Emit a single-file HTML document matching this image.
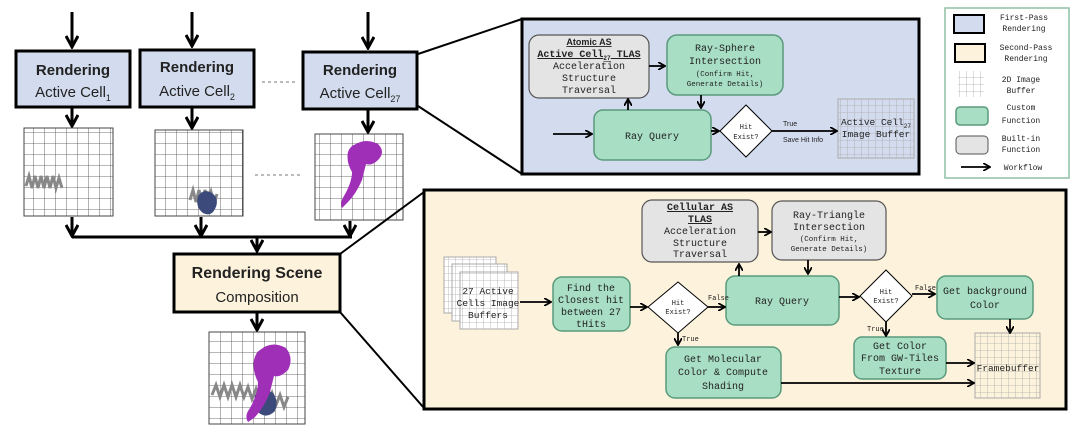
<!DOCTYPE html>
<html><head><meta charset="utf-8"><style>
html,body{margin:0;padding:0;background:#fff;}
svg{display:block;}
text{font-family:"Liberation Mono",monospace;fill:#222;}
.s{font-family:"Liberation Sans",sans-serif;}
</style></head><body>
<svg width="1076" height="436" viewBox="0 0 1076 436" xmlns="http://www.w3.org/2000/svg">
<defs>
<marker id="a" markerWidth="8" markerHeight="8" refX="7" refY="4" orient="auto" markerUnits="userSpaceOnUse"><path d="M0,0 L7,4 L0,8" fill="none" stroke="#000" stroke-width="1.8"/></marker>
<marker id="b" markerWidth="14" markerHeight="14" refX="12" refY="7" orient="auto" markerUnits="userSpaceOnUse"><path d="M1,1 L12,7 L1,13" fill="none" stroke="#000" stroke-width="3"/></marker>
<pattern id="g" width="11" height="11" patternUnits="userSpaceOnUse"><path d="M11,0 L0,0 0,11" fill="none" stroke="#444" stroke-width="0.8"/></pattern>
<pattern id="gl" width="7" height="7" patternUnits="userSpaceOnUse"><path d="M7,0 L0,0 0,7" fill="none" stroke="#aaa" stroke-width="0.8"/></pattern>
</defs>

<g stroke="#000" stroke-width="3" marker-end="url(#b)">
<line x1="72" y1="12" x2="72" y2="47"/><line x1="192" y1="12" x2="192" y2="46"/><line x1="368" y1="12" x2="368" y2="48"/>
<line x1="72" y1="108" x2="72" y2="126"/><line x1="192" y1="108" x2="192" y2="128"/><line x1="368" y1="110" x2="368" y2="132"/>
<line x1="72" y1="217" x2="72" y2="236"/><line x1="201" y1="217" x2="201" y2="236"/><line x1="350" y1="221" x2="350" y2="236"/>
<line x1="257" y1="237" x2="257" y2="251"/><line x1="257" y1="313" x2="257" y2="330"/>
</g>
<line x1="72" y1="237" x2="352" y2="237" stroke="#000" stroke-width="3"/>

<rect x="16" y="51" width="114" height="56" fill="#d3dcee" stroke="#000" stroke-width="3"/>
<rect x="140" y="50" width="114" height="57" fill="#d3dcee" stroke="#000" stroke-width="3"/>
<rect x="303" y="52" width="114" height="57" fill="#d3dcee" stroke="#000" stroke-width="3"/>
<g class="s" text-anchor="middle">
<text x="73" y="75" class="s" font-weight="bold" font-size="15">Rendering</text>
<text x="73" y="97" class="s" font-size="15">Active Cell<tspan font-size="9" dy="4">1</tspan></text>
<text x="197" y="72" class="s" font-weight="bold" font-size="15">Rendering</text>
<text x="197" y="96" class="s" font-size="15">Active Cell<tspan font-size="9" dy="4">2</tspan></text>
<text x="360" y="75" class="s" font-weight="bold" font-size="15">Rendering</text>
<text x="360" y="98" class="s" font-size="15">Active Cell<tspan font-size="9" dy="4">27</tspan></text>
</g>
<line x1="262" y1="82" x2="296" y2="82" stroke="#bbb" stroke-width="2" stroke-dasharray="3,3"/>
<line x1="255" y1="175" x2="302" y2="175" stroke="#bbb" stroke-width="2" stroke-dasharray="3,3"/>

<rect x="24" y="128" width="89" height="88" fill="url(#g)" stroke="#444"/>
<rect x="155" y="130" width="88" height="86" fill="url(#g)" stroke="#444"/>
<rect x="315" y="134" width="88" height="86" fill="url(#g)" stroke="#444"/>
<rect x="209" y="332" width="96" height="92" fill="url(#g)" stroke="#444"/>
<g stroke="#888" stroke-width="3" fill="none">
<path d="M26,186 l3,-10 l3,12 l3,-12 l3,12 l3,-12 l3,12 l3,-12 l3,12 l3,-12 l3,12 l3,-10 l3,10"/>
<path d="M190,200 l3,-10 l3,12 l3,-12 l3,12 l3,-12 l3,12 l3,-10 l3,12 l3,-10"/>
<path d="M212,395 l4,-10 l4,12 l4,-12 l4,12 l4,-12 l4,12 l4,-12 l4,12 l4,-10 l4,12 l4,-10 l4,12 l4,-10 l4,12 l4,-10 l4,12 l4,-10 l4,12 l4,-10"/>
</g>
<path d="M198,196 q6,-8 14,-3 q8,6 3,16 q-4,8 -12,4 q-8,-6 -5,-17z" fill="#3b4a7a"/>
<path d="M255,395 q8,-8 18,-2 q6,8 2,18 q-8,8 -16,2 q-6,-8 -4,-18z" fill="#3b4a7a"/>
<path d="M356,144 q10,-6 22,0 q8,8 0,16 q-6,6 -12,4 l-4,16 q-6,14 -14,22 l-6,6 q-2,-6 2,-12 q8,-14 8,-24 q-6,-10 -4,-20 q2,-6 8,-8z" fill="#a02fb8"/>
<path d="M260,350 q12,-10 26,-2 q8,10 2,22 q-8,8 -14,6 l-4,16 q-6,16 -16,26 l-6,4 q-4,-6 2,-14 q8,-14 8,-26 q-6,-12 -4,-22 q2,-8 6,-10z" fill="#a02fb8"/>

<rect x="174" y="254" width="166" height="58" fill="#fdf3dc" stroke="#000" stroke-width="3"/>
<text x="257" y="278" class="s" text-anchor="middle" font-weight="bold" font-size="16">Rendering Scene</text>
<text x="257" y="302" class="s" text-anchor="middle" font-size="15">Composition</text>

<g stroke="#000" stroke-width="2">
<line x1="418" y1="54" x2="522" y2="19"/><line x1="418" y1="106" x2="522" y2="174"/>
<line x1="340" y1="254" x2="424" y2="192"/><line x1="340" y1="312" x2="424" y2="408"/>
</g>

<rect x="522" y="19" width="397" height="155" fill="#d3dcee" stroke="#000" stroke-width="3"/>
<rect x="529" y="35" width="120" height="63" rx="10" fill="#e4e4e4" stroke="#555" stroke-width="1.2"/>
<g text-anchor="middle" font-size="10">
<text x="589" y="45" class="s" font-weight="bold" font-size="9" text-decoration="underline">Atomic AS</text>
<text x="589" y="57" font-weight="bold" text-decoration="underline">Active Cell<tspan font-size="6" dy="3">27</tspan><tspan dy="-3"> TLAS</tspan></text>
<text x="589" y="69">Acceleration</text>
<text x="589" y="81">Structure</text>
<text x="589" y="93">Traversal</text>
</g>
<rect x="667" y="35" width="116" height="60" rx="10" fill="#a8dfc4" stroke="#5a9a7c" stroke-width="1.5"/>
<g text-anchor="middle">
<text x="725" y="51" font-size="10">Ray-Sphere</text>
<text x="725" y="64" font-size="10">Intersection</text>
<text x="725" y="76" font-size="7.5">(Confirm Hit,</text>
<text x="725" y="86" font-size="7.5">Generate Details)</text>
</g>
<rect x="594" y="110" width="117" height="50" rx="9" fill="#a8dfc4" stroke="#5a9a7c" stroke-width="1.5"/>
<text x="652" y="139" text-anchor="middle" font-size="10">Ray Query</text>
<path d="M746,105 L772,131 L746,157 L720,131Z" fill="#fff" stroke="#000" stroke-width="1"/>
<text x="746" y="129" text-anchor="middle" font-size="7">Hit</text>
<text x="746" y="139" text-anchor="middle" font-size="7">Exist?</text>
<rect x="838" y="99" width="76" height="59" fill="url(#gl)" stroke="#aaa"/>
<text x="876" y="125" text-anchor="middle" font-size="9.5">Active Cell<tspan font-size="6" dy="3">27</tspan></text>
<text x="876" y="137" text-anchor="middle" font-size="9.5">Image Buffer</text>
<text x="783" y="126" class="s" font-size="7">True</text>
<text x="783" y="142" class="s" font-size="7">Save Hit Info</text>
<g stroke="#000" stroke-width="1.8" marker-end="url(#a)">
<line x1="553" y1="134" x2="592" y2="134"/>
<line x1="649" y1="66" x2="665" y2="66"/>
<line x1="701" y1="95" x2="701" y2="108"/>
<line x1="628" y1="110" x2="628" y2="99"/>
<line x1="711" y1="131" x2="719" y2="131"/>
<line x1="772" y1="131" x2="837" y2="131"/>
</g>

<rect x="424" y="190" width="642" height="219" fill="#fdf3dc" stroke="#000" stroke-width="3"/>
<rect x="444" y="257" width="52" height="56" fill="#fff" stroke="#aaa"/><rect x="444" y="257" width="52" height="56" fill="url(#gl)"/>
<rect x="452" y="264" width="55" height="57" fill="#fff" stroke="#aaa"/><rect x="452" y="264" width="55" height="57" fill="url(#gl)"/>
<rect x="460" y="272" width="58" height="57" fill="#fff" stroke="#aaa"/><rect x="460" y="272" width="58" height="57" fill="url(#gl)"/>
<g text-anchor="middle" font-size="9.5">
<text x="488" y="294">27 Active</text><text x="488" y="306">Cells Image</text><text x="488" y="318">Buffers</text>
</g>
<rect x="553" y="277" width="77" height="54" rx="9" fill="#a8dfc4" stroke="#5a9a7c" stroke-width="1.5"/>
<g text-anchor="middle" font-size="10">
<text x="591" y="291">Find the</text><text x="591" y="303">Closest hit</text><text x="591" y="315">between 27</text><text x="591" y="327">tHits</text>
</g>
<path d="M678,282 L708,307 L678,333 L648,307Z" fill="#fff" stroke="#000" stroke-width="1"/>
<text x="678" y="305" text-anchor="middle" font-size="7">Hit</text><text x="678" y="314" text-anchor="middle" font-size="7">Exist?</text>
<rect x="642" y="200" width="116" height="62" rx="10" fill="#e4e4e4" stroke="#555" stroke-width="1.2"/>
<g text-anchor="middle" font-size="10">
<text x="700" y="210" font-weight="bold" text-decoration="underline">Cellular AS</text>
<text x="700" y="222" font-weight="bold" text-decoration="underline">TLAS</text>
<text x="700" y="234">Acceleration</text><text x="700" y="246">Structure</text><text x="700" y="257">Traversal</text>
</g>
<rect x="772" y="201" width="114" height="59" rx="10" fill="#e4e4e4" stroke="#555" stroke-width="1.2"/>
<g text-anchor="middle">
<text x="829" y="218" font-size="10">Ray-Triangle</text><text x="829" y="230" font-size="10">Intersection</text>
<text x="829" y="241" font-size="7.5">(Confirm Hit,</text><text x="829" y="251" font-size="7.5">Generate Details)</text>
</g>
<rect x="726" y="276" width="113" height="49" rx="9" fill="#a8dfc4" stroke="#5a9a7c" stroke-width="1.5"/>
<text x="782" y="304" text-anchor="middle" font-size="10">Ray Query</text>
<path d="M886,270 L912,296 L886,322 L860,296Z" fill="#fff" stroke="#000" stroke-width="1"/>
<text x="886" y="294" text-anchor="middle" font-size="7">Hit</text><text x="886" y="303" text-anchor="middle" font-size="7">Exist?</text>
<rect x="937" y="276" width="96" height="43" rx="9" fill="#a8dfc4" stroke="#5a9a7c" stroke-width="1.5"/>
<text x="985" y="294" text-anchor="middle" font-size="10">Get background</text><text x="985" y="308" text-anchor="middle" font-size="10">Color</text>
<rect x="854" y="337" width="92" height="42" rx="8" fill="#a8dfc4" stroke="#5a9a7c" stroke-width="1.5"/>
<g text-anchor="middle" font-size="10"><text x="900" y="349">Get Color</text><text x="900" y="361">From GW-Tiles</text><text x="900" y="374">Texture</text></g>
<rect x="666" y="347" width="115" height="51" rx="9" fill="#a8dfc4" stroke="#5a9a7c" stroke-width="1.5"/>
<g text-anchor="middle" font-size="10"><text x="723" y="362">Get Molecular</text><text x="723" y="375">Color &amp; Compute</text><text x="723" y="389">Shading</text></g>
<rect x="975" y="333" width="65" height="65" fill="url(#gl)" stroke="#aaa"/>
<text x="1008" y="371" text-anchor="middle" font-size="9.5">Framebuffer</text>
<g class="s" font-size="7">
<text x="708" y="300">False</text><text x="682" y="341">True</text>
<text x="915" y="290">False</text><text x="867" y="331">True</text>
</g>
<g stroke="#000" stroke-width="1.8" marker-end="url(#a)">
<line x1="520" y1="302" x2="551" y2="302"/>
<line x1="630" y1="307" x2="647" y2="307"/>
<line x1="708" y1="307" x2="725" y2="307"/>
<line x1="678" y1="333" x2="678" y2="345"/>
<line x1="739" y1="276" x2="739" y2="264"/>
<line x1="758" y1="232" x2="771" y2="232"/>
<line x1="808" y1="260" x2="808" y2="274"/>
<line x1="839" y1="297" x2="859" y2="297"/>
<line x1="912" y1="294" x2="935" y2="294"/>
<line x1="886" y1="322" x2="886" y2="336"/>
<line x1="1010" y1="319" x2="1010" y2="333"/>
<line x1="946" y1="363" x2="974" y2="363"/>
<line x1="781" y1="383" x2="974" y2="383"/>
</g>

<rect x="945" y="8" width="124" height="170" fill="#fff" stroke="#8fbfa3" stroke-width="1.5"/>
<rect x="954" y="15" width="30" height="18" fill="#d3dcee" stroke="#000" stroke-width="2"/>
<rect x="955" y="44" width="30" height="18" fill="#fdf3dc" stroke="#000" stroke-width="2"/>
<rect x="958" y="71" width="26" height="26" fill="url(#gl)"/>
<rect x="956" y="107" width="32" height="18" rx="4" fill="#a8dfc4" stroke="#5a9a7c" stroke-width="1.5"/>
<rect x="956" y="136" width="32" height="18" rx="4" fill="#e4e4e4" stroke="#555" stroke-width="1"/>
<line x1="961" y1="167" x2="990" y2="167" stroke="#000" stroke-width="1.8" marker-end="url(#a)"/>
<g font-size="8" text-anchor="middle">
<text x="1024" y="20">First-Pass</text><text x="1024" y="31">Rendering</text>
<text x="1026" y="50">Second-Pass</text><text x="1026" y="61">Rendering</text>
<text x="1021" y="82">2D Image</text><text x="1021" y="93">Buffer</text>
<text x="1021" y="110">Custom</text><text x="1021" y="123">Function</text>
<text x="1021" y="141">Built-in</text><text x="1021" y="152">Function</text>
<text x="1023" y="170">Workflow</text>
</g>
</svg>
</body></html>
